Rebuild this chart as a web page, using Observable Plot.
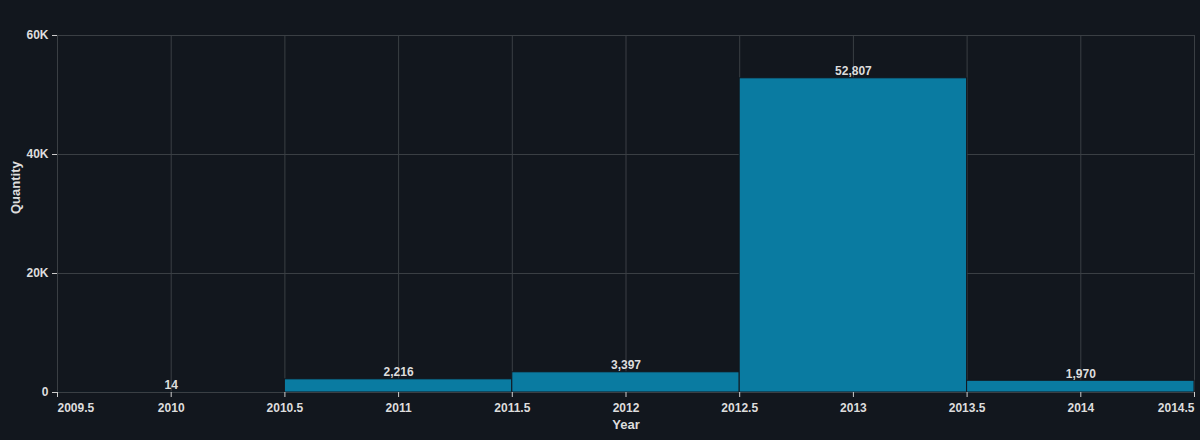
<!DOCTYPE html>
<html><head>
<script src="https://cdn.jsdelivr.net/npm/d3@7"></script>
<script src="https://cdn.jsdelivr.net/npm/@observablehq/plot@0.6"></script>
<style>body{margin:0;background:#12171e}</style>
</head><body><div id="chart"></div>
<script>
const years = [2010, 2011, 2012, 2013, 2014]
const quantity = [14, 2216, 3397, 52807, 1970]
const xTicks = [2009.5, 2010, 2010.5, 2011, 2011.5, 2012, 2012.5, 2013, 2013.5, 2014, 2014.5]
const yTicks = [0, 20000, 40000, 60000]

const data = years.map((y, i) => ({year: y, q: quantity[i]}))
const fmt = d3.format(",")
const font = "Arial, Liberation Sans"
const tickText = (ticks, anchor) => Plot.text(ticks, {x: d => d, frameAnchor: "bottom", dy: 19, text: d => String(d),
  textAnchor: anchor, fill: "#dddddd", fontSize: 12, fontWeight: "bold", fontFamily: font})

const chart = Plot.plot({
  width: 1200, height: 440,
  marginLeft: 57, marginRight: 6, marginTop: 35, marginBottom: 48,
  x: {domain: [2009.5, 2014.5], label: null},
  y: {domain: [0, 60000], label: null},
  marks: [
    Plot.gridX(xTicks, {stroke: "#3a3f44", strokeOpacity: 1}),
    Plot.gridY(yTicks, {stroke: "#3a3f44", strokeOpacity: 1}),
    Plot.rectY(data, {x1: d => d.year - 0.5, x2: d => d.year + 0.5, y: "q", fill: "#0a7ba1", stroke: "#12171e", strokeWidth: 1}),
    Plot.ruleY([0], {stroke: "#3a3f44"}),
    Plot.text(data, {x: "year", y: "q", text: d => fmt(d.q), dy: -7, fill: "#dddddd", fontSize: 12, fontWeight: "bold", fontFamily: font}),
    Plot.axisX(xTicks, {tickSize: 5, stroke: "#cccccc", tickFormat: () => "", label: null}),
    tickText(xTicks.slice(0, 1), "start"),
    tickText(xTicks.slice(1, -1), "middle"),
    tickText(xTicks.slice(-1), "end"),
    Plot.axisY(yTicks, {tickSize: 5, stroke: "#cccccc", color: "#dddddd", fontSize: 12, fontWeight: "bold", fontFamily: font,
      tickFormat: d => d === 0 ? "0" : d / 1000 + "K", label: null}),
    Plot.text(["Year"], {frameAnchor: "bottom", dy: 36, fill: "#dddddd", fontWeight: "bold", fontSize: 13, fontFamily: font}),
    Plot.text(["Quantity"], {frameAnchor: "left", dx: -42, rotate: -90, fill: "#dddddd", fontWeight: "bold", fontSize: 13, fontFamily: font})
  ],
  style: {background: "#12171e", color: "#dddddd", fontFamily: font, fontSize: "12px", fontWeight: "bold"}
})
document.getElementById("chart").append(chart)
</script>
</body></html>
